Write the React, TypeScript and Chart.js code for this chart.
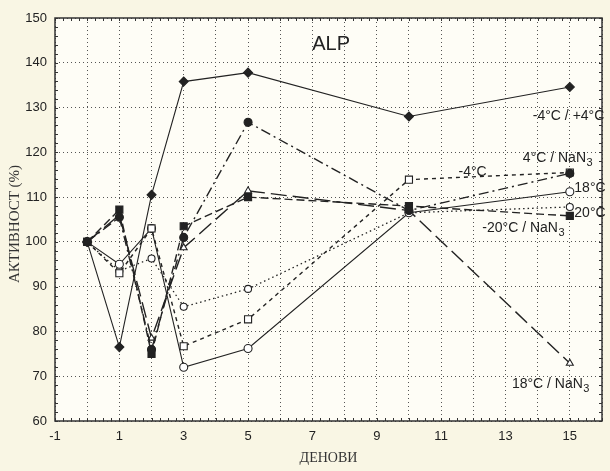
import { useEffect, useRef } from "react";
import { Chart, registerables } from "chart.js";

Chart.register(...registerables);

// ---- data ----
const days = [0, 1, 2, 3, 5, 10, 15];
const seriesNames = ["-4°C / +4°C", "4°C / NaN3", "-4°C", "18°C", "20°C", "-20°C / NaN3", "18°C / NaN3"];
const sMinus4Plus4 = [100, 76.5, 110.5, 135.8, 137.8, 128, 134.6];
const s4NaN3 = [100, 105.5, 76, 101, 126.7, 107, 115.3];
const sMinus4 = [100, 93, 103, 76.7, 82.7, 113.9, 115.5];
const s18 = [100, 95, 103, 72, 76.2, 106.5, 111.2];
const s20 = [100, 93.5, 96.3, 85.5, 89.5, 106.5, 107.8];
const sMinus20NaN3 = [100, 107.2, 75, 103.5, 110, 108, 105.8];
const s18NaN3 = [100, 106, 78.5, 98.7, 111.4, 107, 72.9];
const xTickLabels = [-1, 1, 3, 5, 7, 9, 11, 13, 15];
const yTickLabels = [60, 70, 80, 90, 100, 110, 120, 130, 140, 150];
const chartTitle = "ALP";
const xTitle = "ДЕНОВИ";
const yTitle = "АКТИВНОСТ (%)";

// label anchors (data units) for the curve names
const labelAnchors = [
  { text: "-4°C / +4°C", x: 13.85, y: 128.1 },
  { text: "4°C / NaN_3", x: 13.54, y: 118.7 },
  { text: "-4°C", x: 11.54, y: 115.6 },
  { text: "18°C", x: 15.14, y: 112.0 },
  { text: "20°C", x: 15.14, y: 106.5 },
  { text: "-20°C / NaN_3", x: 12.28, y: 103.1 },
  { text: "18°C / NaN_3", x: 13.2, y: 68.3 },
];

const OUTER_BG = "#f9f6e4";
const INNER_BG = "#fefdf6";
const INK = "#222222";

const seriesValues = [sMinus4Plus4, s4NaN3, sMinus4, s18, s20, sMinus20NaN3, s18NaN3];
const seriesStyles = [
  { dash: [], point: "rectRot", r: 4.5, fill: INK, w: 1.1 },
  { dash: [10, 4, 2, 4], point: "circle", r: 4, fill: INK, w: 1.4 },
  { dash: [4, 4], point: "rect", r: 5, fill: "#ffffff", w: 1.4 },
  { dash: [], point: "circle", r: 4, fill: "#ffffff", w: 1.1 },
  { dash: [1.5, 3], point: "circle", r: 3.5, fill: "#ffffff", w: 1.3 },
  { dash: [8, 4], point: "rect", r: 5, fill: INK, w: 1.4 },
  { dash: [16, 6], point: "triangle", r: 4, fill: "#ffffff", w: 1.4 },
];

function drawRich(ctx: CanvasRenderingContext2D, text: string, x: number, y: number, size: number) {
  const parts = text.split("_");
  let cx = x;
  ctx.font = `${size}px 'Liberation Sans', Arial, sans-serif`;
  ctx.textBaseline = "middle";
  ctx.textAlign = "left";
  ctx.fillText(parts[0], cx, y);
  cx += ctx.measureText(parts[0]).width;
  if (parts[1]) {
    ctx.font = `${Math.round(size * 0.75)}px 'Liberation Sans', Arial, sans-serif`;
    ctx.fillText(parts[1], cx + 0.5, y + size * 0.35);
  }
}

const decor = {
  id: "decor",
  beforeDraw(chart: any) {
    const { ctx, chartArea: a, width, height } = chart;
    ctx.save();
    ctx.fillStyle = OUTER_BG;
    ctx.fillRect(0, 0, width, height);
    ctx.fillStyle = INNER_BG;
    ctx.fillRect(a.left, a.top, a.right - a.left, a.bottom - a.top);
    ctx.restore();
  },
  afterDraw(chart: any) {
    const { ctx, chartArea: a, scales } = chart;
    const xs = scales.x;
    const ys = scales.y;
    ctx.save();
    // frame
    ctx.strokeStyle = "#333";
    ctx.lineWidth = 1.5;
    ctx.setLineDash([]);
    ctx.strokeRect(a.left, a.top, a.right - a.left, a.bottom - a.top);
    // minor ticks
    ctx.lineWidth = 1;
    ctx.beginPath();
    for (let v = xs.min; v <= xs.max + 1e-6; v += 0.25) {
      const px = Math.round(xs.getPixelForValue(v)) + 0.5;
      ctx.moveTo(px, a.top);
      ctx.lineTo(px, a.top + 3);
      ctx.moveTo(px, a.bottom);
      ctx.lineTo(px, a.bottom - 3);
    }
    for (let v = ys.min; v <= ys.max + 1e-6; v += 2) {
      const py = Math.round(ys.getPixelForValue(v)) + 0.5;
      ctx.moveTo(a.left, py);
      ctx.lineTo(a.left + 3, py);
      ctx.moveTo(a.right, py);
      ctx.lineTo(a.right - 3, py);
    }
    ctx.stroke();
    // curve labels
    ctx.fillStyle = INK;
    for (const l of labelAnchors) {
      drawRich(ctx, l.text, xs.getPixelForValue(l.x), ys.getPixelForValue(l.y), 14);
    }
    // title
    ctx.font = "20px 'Liberation Sans', Arial, sans-serif";
    ctx.textAlign = "center";
    ctx.textBaseline = "middle";
    ctx.fillText(chartTitle, xs.getPixelForValue(7.58), ys.getPixelForValue(144));
    // axis titles
    ctx.font = "14px 'Liberation Serif', 'Times New Roman', serif";
    ctx.fillStyle = "#333";
    ctx.fillText(xTitle, (a.left + a.right) / 2 + 0, 458);
    ctx.translate(15, 224);
    ctx.rotate(-Math.PI / 2);
    ctx.font = "15px 'Liberation Serif', 'Times New Roman', serif";
    ctx.fillText(yTitle, 0, 0);
    ctx.restore();
  },
};

export default function App() {
  const ref = useRef<HTMLCanvasElement | null>(null);
  useEffect(() => {
    document.body.style.margin = "0";
    const canvas = ref.current;
    if (!canvas) return;
    const datasets = seriesValues.map((vals, i) => {
      const st = seriesStyles[i];
      return {
        label: seriesNames[i],
        data: days.map((d, j) => ({ x: d, y: vals[j] })),
        borderColor: INK,
        borderWidth: st.w,
        borderDash: st.dash,
        backgroundColor: st.fill,
        pointStyle: st.point,
        pointRadius: st.r,
        pointBorderWidth: 1.1,
        pointBorderColor: INK,
        pointBackgroundColor: st.fill,
        tension: 0,
        fill: false,
      };
    });
    const chart = new Chart(canvas, {
      type: "line",
      data: { datasets },
      plugins: [decor],
      options: {
        animation: false,
        responsive: false,
        devicePixelRatio: 1,
        layout: { padding: { top: 18, right: 2, left: 0, bottom: 0 } },
        plugins: { legend: { display: false }, tooltip: { enabled: false }, title: { display: false } },
        scales: {
          x: {
            type: "linear",
            min: -1,
            max: 16,
            afterFit: (s: any) => {
              s.height = 50;
            },
            afterBuildTicks: (s: any) => {
              const t = [];
              for (let v = -1; v <= 16; v++) t.push({ value: v });
              s.ticks = t;
            },
            ticks: {
              autoSkip: false,
              maxRotation: 0,
              padding: 8,
              color: "#222",
              font: { family: "'Liberation Sans Narrow', 'Liberation Sans', Arial", size: 13 },
              callback: (v: any) => (xTickLabels.includes(Number(v)) ? String(v) : ""),
            },
            grid: { color: "#555", lineWidth: 1, drawTicks: false },
            border: { display: false, dash: [1, 3] },
          },
          y: {
            type: "linear",
            min: 60,
            max: 150,
            afterFit: (s: any) => {
              s.width = 55;
            },
            afterBuildTicks: (s: any) => {
              s.ticks = yTickLabels.map((v) => ({ value: v }));
            },
            ticks: {
              padding: 8,
              color: "#222",
              font: { family: "'Liberation Sans Narrow', 'Liberation Sans', Arial", size: 13 },
            },
            grid: { color: "#555", lineWidth: 1, drawTicks: false },
            border: { display: false, dash: [1, 3] },
          },
        },
      },
    } as any);
    return () => chart.destroy();
  }, []);
  return (
    <div style={{ width: 610, height: 471, position: "relative" }}>
      <canvas ref={ref} width={610} height={471} style={{ display: "block", width: 610, height: 471 }} />
    </div>
  );
}
